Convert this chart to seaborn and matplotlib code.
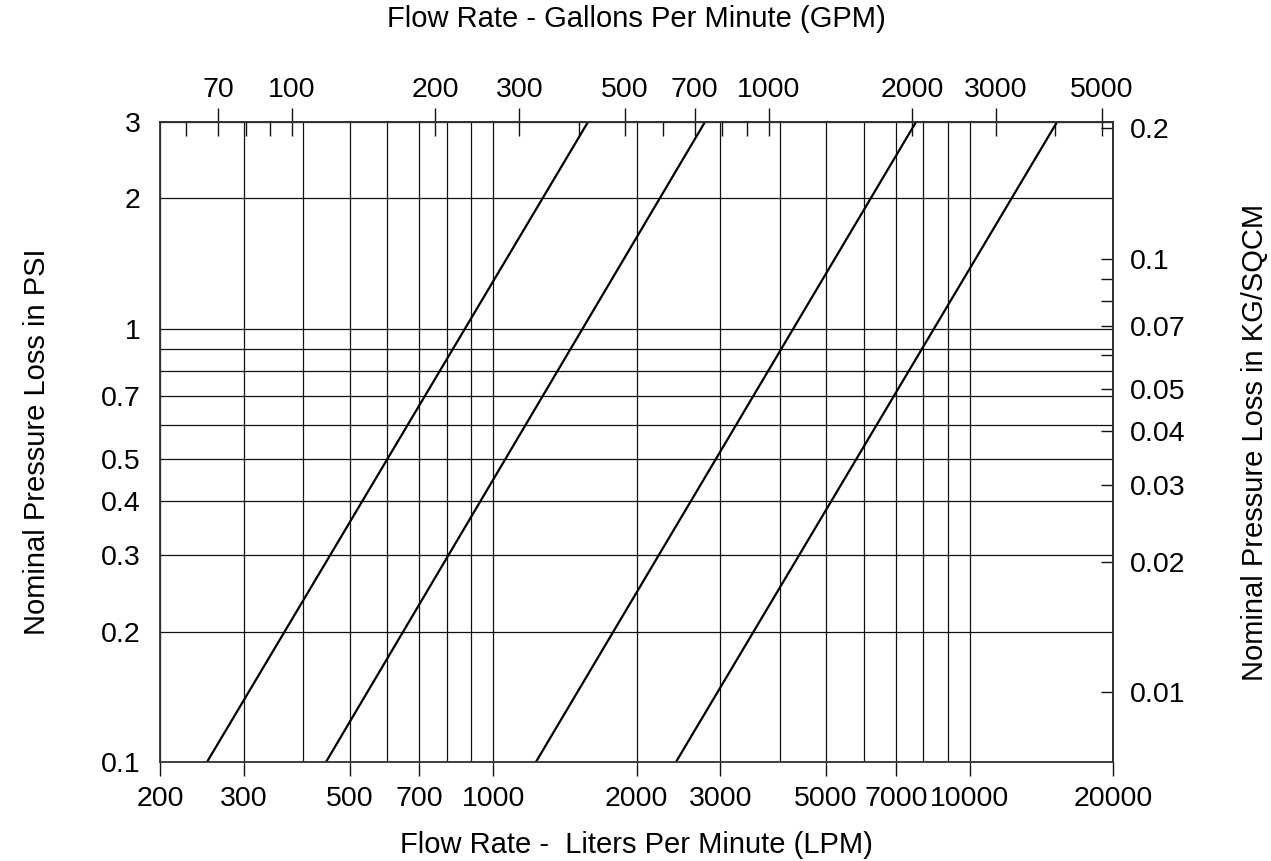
import pandas as pd
import seaborn as sns
import matplotlib.pyplot as plt

# flow (LPM) at the bottom (0.1 psi) and top (3 psi) of each curve
psi_ends = [0.1, 3.0]
curve_a = [251, 1582]
curve_b = [446, 2784]
curve_c = [1230, 7721]
curve_d = [2420, 15260]

lpm_major = [200, 300, 500, 700, 1000, 2000, 3000, 5000, 7000, 10000, 20000]
lpm_minor = [400, 600, 800, 900, 4000, 6000, 8000, 9000]
psi_major = [0.1, 0.2, 0.3, 0.4, 0.5, 0.7, 1, 2, 3]
psi_minor = [0.6, 0.8, 0.9]
gpm_major = [70, 100, 200, 300, 500, 700, 1000, 2000, 3000, 5000]
gpm_minor = [60, 80, 90, 400, 600, 800, 900, 4000]
kg_major = [0.01, 0.02, 0.03, 0.04, 0.05, 0.07, 0.1, 0.2]
kg_minor = [0.06, 0.08, 0.09]

LPM_PER_GPM = 3.785
KG_PER_PSI = 0.06895

sns.set_theme(style="white")
plt.rcParams['font.family'] = ['Liberation Sans', 'DejaVu Sans']
plt.rcParams['text.color'] = 'black'
plt.rcParams['axes.labelcolor'] = 'black'
plt.rcParams['xtick.color'] = 'black'
plt.rcParams['ytick.color'] = 'black'
fs = 20.5
lfs = 21

rows = []
for name, vals in [("a", curve_a), ("b", curve_b), ("c", curve_c), ("d", curve_d)]:
    for q, p in zip(vals, psi_ends):
        rows.append({"curve": name, "lpm": q, "psi": p})
df = pd.DataFrame(rows)

fig = plt.figure(figsize=(12.71, 8.61), dpi=100)
ax = fig.add_axes([0.1259, 0.115, 0.7498, 0.7433])
ax.set_xscale("log")
ax.set_yscale("log")

sns.lineplot(data=df, x="lpm", y="psi", units="curve", estimator=None,
             color="black", lw=1.6, ax=ax, legend=False)

ax.set_xlim(200, 20000)
ax.set_ylim(0.1, 3)

ax.set_xticks(lpm_major)
ax.set_xticks(lpm_minor, minor=True)
ax.set_xticklabels([str(v) for v in lpm_major])
ax.set_yticks(psi_major)
ax.set_yticks(psi_minor, minor=True)
ax.set_yticklabels([("%g" % v) for v in psi_major])
ax.tick_params(axis="x", which="major", direction="out", length=10, width=1,
               color="#111", labelsize=fs, pad=7, bottom=True)
ax.tick_params(axis="x", which="minor", length=0, labelbottom=False)
ax.tick_params(axis="y", which="both", length=0, labelsize=fs, pad=14)
ax.grid(True, which="both", color="#111", lw=0.9)

for s in ax.spines.values():
    s.set_color("#333")
    s.set_linewidth(1.3)

ax.set_xlabel("Flow Rate -  Liters Per Minute (LPM)", fontsize=lfs, labelpad=14)
ax.set_ylabel("Nominal Pressure Loss in PSI", fontsize=lfs, labelpad=36)

top = ax.secondary_xaxis("top", functions=(lambda x: x / LPM_PER_GPM,
                                           lambda x: x * LPM_PER_GPM))
top.set_xticks(gpm_major)
top.set_xticks(gpm_minor, minor=True)
top.set_xticklabels([str(v) for v in gpm_major])
top.tick_params(which="major", direction="inout", length=20, width=1,
                color="#111", labelsize=fs, pad=4)
top.tick_params(which="minor", direction="in", length=10, width=1,
                color="#111", labeltop=False)
top.set_xlabel("Flow Rate - Gallons Per Minute (GPM)", fontsize=lfs, labelpad=36)

right = ax.secondary_yaxis("right", functions=(lambda p: p * KG_PER_PSI,
                                               lambda k: k / KG_PER_PSI))
right.set_yticks(kg_major)
right.set_yticks(kg_minor, minor=True)
right.set_yticklabels([("%g" % v) for v in kg_major])
right.tick_params(which="both", direction="in", length=9, width=1,
                  color="#111", labelsize=fs, pad=12)
right.tick_params(which="minor", labelright=False)
right.set_ylabel("Nominal Pressure Loss in KG/SQCM", fontsize=lfs, labelpad=40)

fig.savefig("out.png", dpi=100)
